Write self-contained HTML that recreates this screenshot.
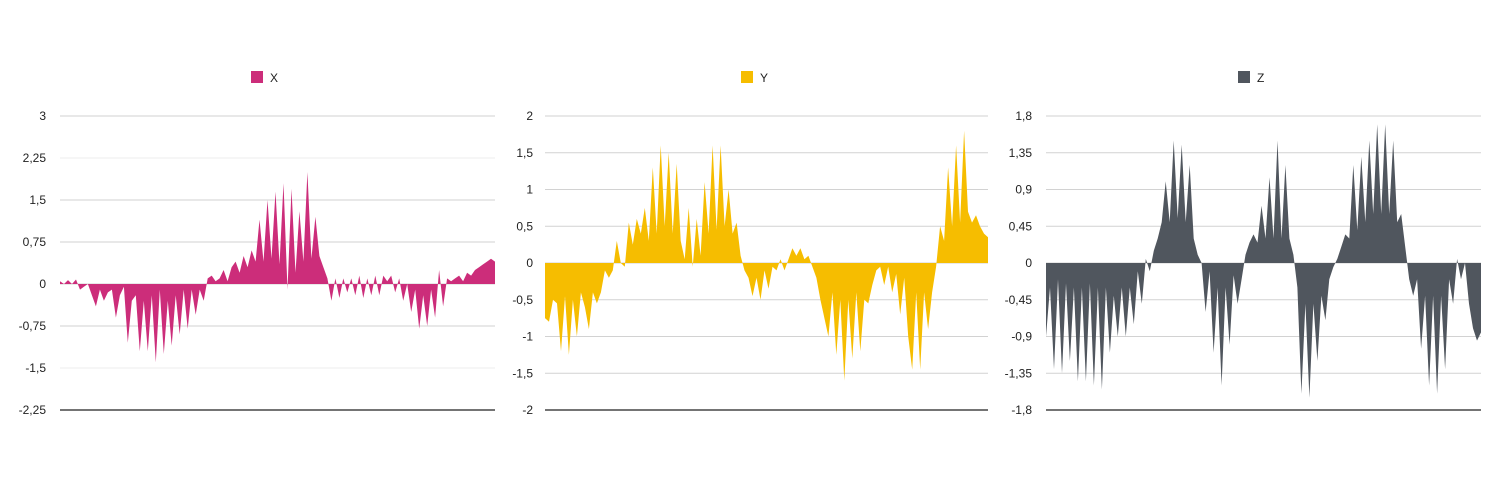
<!DOCTYPE html>
<html><head><meta charset="utf-8">
<style>
html,body{margin:0;padding:0;background:#fff;}
body{width:1500px;height:500px;overflow:hidden;font-family:"Liberation Sans",Arial,sans-serif;}
svg{position:absolute;left:0;top:0;}
</style></head>
<body>
<svg id="chart" width="1500" height="500" xmlns="http://www.w3.org/2000/svg"></svg>
<script>
const xValues=[0.05,0.0,0.07,0.0,0.08,-0.1,-0.05,0,-0.2,-0.4,-0.1,-0.3,-0.15,-0.1,-0.6,-0.2,-0.05,-1.05,-0.3,-0.2,-1.2,-0.3,-1.2,-0.2,-1.4,-0.1,-1.25,-0.3,-1.1,-0.2,-0.9,-0.1,-0.8,-0.1,-0.55,-0.1,-0.3,0.1,0.15,0.05,0.1,0.25,0.05,0.3,0.4,0.2,0.5,0.3,0.6,0.4,1.15,0.4,1.5,0.45,1.65,0.35,1.8,-0.1,1.7,0.2,1.3,0.4,2.0,0.45,1.2,0.5,0.3,0.1,-0.3,0.1,-0.25,0.1,-0.15,0.1,-0.2,0.15,-0.25,0.1,-0.2,0.15,-0.2,0.15,0.05,0.15,-0.15,0.1,-0.3,0.0,-0.5,-0.1,-0.8,-0.2,-0.75,-0.1,-0.6,0.25,-0.4,0.1,0.05,0.1,0.15,0.05,0.2,0.15,0.25,0.3,0.35,0.4,0.45,0.4];
const yValues=[-0.75,-0.8,-0.5,-0.55,-1.2,-0.45,-1.25,-0.5,-1.0,-0.4,-0.6,-0.9,-0.4,-0.55,-0.4,-0.1,-0.2,-0.1,0.3,0.0,-0.05,0.55,0.25,0.6,0.4,0.75,0.3,1.3,0.4,1.6,0.5,1.5,0.4,1.35,0.3,0.05,0.75,-0.05,0.6,0.1,1.1,0.4,1.6,0.45,1.6,0.5,1.0,0.4,0.55,0.1,-0.1,-0.2,-0.45,-0.2,-0.5,-0.1,-0.35,-0.05,-0.1,0.05,-0.1,0.05,0.2,0.1,0.2,0.05,0.1,-0.05,-0.2,-0.5,-0.75,-1.0,-0.4,-1.25,-0.5,-1.6,-0.5,-1.3,-0.4,-1.2,-0.5,-0.55,-0.3,-0.1,-0.05,-0.3,-0.05,-0.4,-0.15,-0.7,-0.2,-1.0,-1.45,-0.4,-1.45,-0.4,-0.9,-0.4,-0.05,0.5,0.3,1.3,0.5,1.6,0.55,1.8,0.7,0.55,0.65,0.5,0.4,0.35];
const zValues=[-0.9,-0.3,-1.3,-0.2,-1.35,-0.25,-1.2,-0.3,-1.45,-0.3,-1.45,-0.25,-1.5,-0.3,-1.55,-0.3,-1.1,-0.4,-0.9,-0.3,-0.9,-0.3,-0.75,-0.1,-0.5,0.05,-0.1,0.15,0.3,0.5,1.0,0.5,1.5,0.55,1.45,0.5,1.2,0.3,0.1,0.0,-0.6,-0.1,-1.1,-0.3,-1.5,-0.3,-1.0,-0.15,-0.5,-0.2,0.1,0.25,0.35,0.25,0.7,0.3,1.05,0.3,1.5,0.3,1.2,0.3,0.1,-0.3,-1.6,-0.5,-1.65,-0.5,-1.2,-0.4,-0.7,-0.2,-0.05,0.05,0.2,0.35,0.3,1.2,0.4,1.3,0.5,1.5,0.6,1.7,0.6,1.7,0.6,1.5,0.5,0.6,0.2,-0.2,-0.4,-0.2,-1.05,-0.4,-1.5,-0.4,-1.6,-0.4,-1.3,-0.2,-0.5,0.05,-0.2,0.0,-0.5,-0.8,-0.95,-0.85];
const xTicks=[3,2.25,1.5,0.75,0,-0.75,-1.5,-2.25];
const yTicks=[2,1.5,1,0.5,0,-0.5,-1,-1.5,-2];
const zTicks=[1.8,1.35,0.9,0.45,0,-0.45,-0.9,-1.35,-1.8];
const seriesNames=["X","Y","Z"];

const NS="http://www.w3.org/2000/svg";
const svgEl=document.getElementById('chart');
function mk(tag,attrs,parent){const e=document.createElementNS(NS,tag);for(const k in attrs)e.setAttribute(k,attrs[k]);(parent||svgEl).appendChild(e);return e;}
function fmt(v){return String(v).replace('.',',');}

const cfgs=[
 {name:seriesNames[0],vals:xValues,ticks:xTicks,color:"#cc2d7a",x0:60,x1:495,labelX:46,legendX:251,light:[2.25,-1.5]},
 {name:seriesNames[1],vals:yValues,ticks:yTicks,color:"#f6bd00",x0:545,x1:988,labelX:533,legendX:741,light:[]},
 {name:seriesNames[2],vals:zValues,ticks:zTicks,color:"#50565e",x0:1046,x1:1481,labelX:1032,legendX:1238,light:[]}
];
const plotTop=116,plotBottom=410;
cfgs.forEach(c=>{
  const g=mk('g',{});
  
  
  const max=c.ticks[0],min=c.ticks[c.ticks.length-1];
  const yS=v=>plotTop+(max-v)/(max-min)*(plotBottom-plotTop);
  const xS=i=>c.x0+i/(c.vals.length-1)*(c.x1-c.x0);
  c.ticks.forEach((t,i)=>{
    const y=yS(t);
    const last=i===c.ticks.length-1;
    const ln=mk('line',{x1:c.x0,x2:c.x1,y1:y,y2:y,stroke:last?'#222':(c.light.includes(t)?'#ececec':'#d2d2d2'),'stroke-width':last?1.3:1},g);
    
    
    const tx=mk('text',{x:c.labelX,y:y+4,'text-anchor':'end','font-size':12,fill:'#222'},g);
    tx.textContent=fmt(t);
    
    
  });
  let d='M'+xS(0)+','+yS(0);
  c.vals.forEach((v,i)=>{d+=' L'+xS(i).toFixed(1)+','+yS(v).toFixed(1);});
  d+=' L'+xS(c.vals.length-1)+','+yS(0)+' Z';
  const p=mk('path',{d:d,fill:c.color,stroke:'none'},g);
  
  
  const lg=mk('g',{},g);
  
  
  mk('rect',{x:c.legendX,y:71,width:12,height:12,fill:c.color},lg);
  const lt=mk('text',{x:c.legendX+19,y:82,'font-size':12,fill:'#222'},lg);
  lt.textContent=c.name;
});
</script>
</body></html>
